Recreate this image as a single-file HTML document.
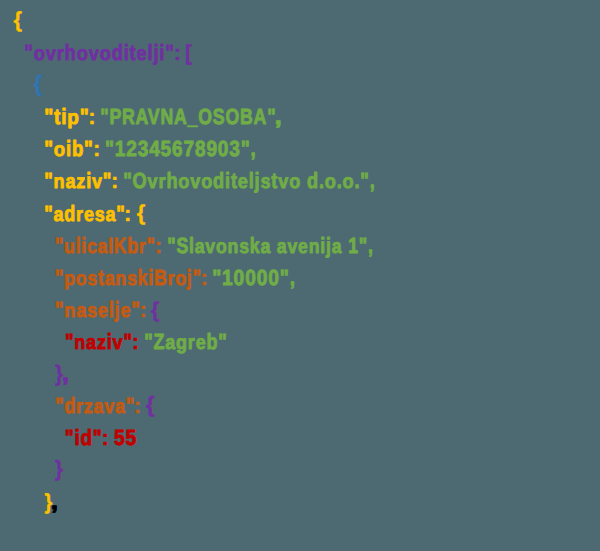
<!DOCTYPE html>
<html><head><meta charset="utf-8"><style>
html,body{margin:0;padding:0;background:#4D6A72;width:600px;height:551px;overflow:hidden}
svg{display:block}
text{font-family:"Liberation Sans",sans-serif;font-weight:bold;font-size:22.0px;white-space:pre;text-rendering:geometricPrecision;stroke-width:0.9px;stroke-linejoin:round}
</style></head><body>
<svg width="600" height="551" viewBox="0 0 600 551">
<rect width="600" height="551" fill="#4D6A72"/>
<g>
<text transform="translate(13.55 27.22) scale(0.9875 0.9857)" fill="#FFC000" stroke="#FFC000" style="stroke-width:0.4px">{</text>
<g fill="#7030A0" stroke="#7030A0"><text transform="translate(24.17 60.00) scale(0.8315 1.0)">"</text><text transform="translate(33.67 60.00) scale(0.8315 0.92)">o</text><text transform="translate(45.67 60.00) scale(0.8315 0.92)">v</text><text transform="translate(56.67 60.00) scale(0.8315 0.92)">r</text><text transform="translate(64.62 60.00) scale(0.8315 1.0)">h</text><text transform="translate(76.63 60.00) scale(0.8315 0.92)">o</text><text transform="translate(88.63 60.00) scale(0.8315 0.92)">v</text><text transform="translate(99.64 60.00) scale(0.8315 0.92)">o</text><text transform="translate(111.64 60.00) scale(0.8315 1.0)">d</text><text transform="translate(123.65 60.00) scale(0.8315 1.0)">i</text><text transform="translate(129.57 60.00) scale(0.8315 1.0)">t</text><text transform="translate(136.49 60.00) scale(0.8315 0.92)">e</text><text transform="translate(147.50 60.00) scale(0.8315 1.0)">l</text><text transform="translate(153.41 60.00) scale(0.8315 1.0)">j</text><text transform="translate(159.32 60.00) scale(0.8315 1.0)">i</text><text transform="translate(165.23 60.00) scale(0.8315 1.0)">"</text></g>
<text transform="translate(173.75 60.00) scale(1.0000 1.0000)" fill="#7030A0" stroke="#7030A0" style="stroke-width:0.4px">:</text>
<text transform="translate(185.04 59.86) scale(0.9600 0.9762)" fill="#7030A0" stroke="#7030A0" style="stroke-width:0.4px">[</text>
<text transform="translate(33.76 91.25) scale(0.9625 1.0000)" fill="#2E75B6" stroke="#2E75B6" style="stroke-width:0.4px">{</text>
<g fill="#FFC000" stroke="#FFC000"><text transform="translate(44.14 124.20) scale(0.8643 1.0)">"</text><text transform="translate(54.01 124.20) scale(0.8643 1.0)">t</text><text transform="translate(61.21 124.20) scale(0.8643 1.0)">i</text><text transform="translate(67.35 124.20) scale(0.8643 0.92)">p</text><text transform="translate(79.83 124.20) scale(0.8643 1.0)">"</text></g>
<text transform="translate(88.25 124.20) scale(1.0000 1.0000)" fill="#FFC000" stroke="#FFC000" style="stroke-width:0.4px">:</text>
<g fill="#70AD47" stroke="#70AD47"><text transform="translate(100.20 124.20) scale(0.8042 1.0)">"</text><text transform="translate(109.38 124.20) scale(0.8042 1.0)">P</text><text transform="translate(121.98 124.20) scale(0.8042 1.0)">R</text><text transform="translate(135.57 124.20) scale(0.8042 1.0)">A</text><text transform="translate(147.83 124.20) scale(0.8042 1.0)">V</text><text transform="translate(160.43 124.20) scale(0.8042 1.0)">N</text><text transform="translate(174.02 124.20) scale(0.8042 1.0)">A</text><text transform="translate(187.60 124.20) scale(0.8042 1.0)">_</text><text transform="translate(198.24 124.20) scale(0.8042 1.0)">O</text><text transform="translate(212.80 124.20) scale(0.8042 1.0)">S</text><text transform="translate(225.41 124.20) scale(0.8042 1.0)">O</text><text transform="translate(239.98 124.20) scale(0.8042 1.0)">B</text><text transform="translate(253.55 124.20) scale(0.8042 1.0)">A</text><text transform="translate(267.14 124.20) scale(0.8042 1.0)">"</text></g>
<text transform="translate(274.40 124.20) scale(1.2000 1.0000)" fill="#70AD47" stroke="#70AD47">,</text>
<g fill="#FFC000" stroke="#FFC000"><text transform="translate(44.16 156.30) scale(0.8430 1.0)">"</text><text transform="translate(53.79 156.30) scale(0.8430 0.92)">o</text><text transform="translate(65.96 156.30) scale(0.8430 1.0)">i</text><text transform="translate(71.95 156.30) scale(0.8430 1.0)">b</text><text transform="translate(84.12 156.30) scale(0.8430 1.0)">"</text></g>
<text transform="translate(92.90 156.30) scale(1.0000 1.0000)" fill="#FFC000" stroke="#FFC000" style="stroke-width:0.4px">:</text>
<g fill="#70AD47" stroke="#70AD47"><text transform="translate(104.94 156.30) scale(0.8649 1.0)">"</text><text transform="translate(114.81 156.30) scale(0.8649 1.0)">1</text><text transform="translate(126.26 156.30) scale(0.8649 1.0)">2</text><text transform="translate(137.71 156.30) scale(0.8649 1.0)">3</text><text transform="translate(149.15 156.30) scale(0.8649 1.0)">4</text><text transform="translate(160.60 156.30) scale(0.8649 1.0)">5</text><text transform="translate(172.05 156.30) scale(0.8649 1.0)">6</text><text transform="translate(183.49 156.30) scale(0.8649 1.0)">7</text><text transform="translate(194.96 156.30) scale(0.8649 1.0)">8</text><text transform="translate(206.40 156.30) scale(0.8649 1.0)">9</text><text transform="translate(217.85 156.30) scale(0.8649 1.0)">0</text><text transform="translate(229.30 156.30) scale(0.8649 1.0)">3</text><text transform="translate(240.74 156.30) scale(0.8649 1.0)">"</text><text transform="translate(250.62 156.30) scale(0.8649 1.0)">,</text></g>
<g fill="#FFC000" stroke="#FFC000"><text transform="translate(44.18 188.40) scale(0.8213 1.0)">"</text><text transform="translate(53.56 188.40) scale(0.8213 0.92)">n</text><text transform="translate(65.42 188.40) scale(0.8213 0.92)">a</text><text transform="translate(76.28 188.40) scale(0.8213 0.92)">z</text><text transform="translate(86.14 188.40) scale(0.8213 1.0)">i</text><text transform="translate(91.98 188.40) scale(0.8213 0.92)">v</text><text transform="translate(102.85 188.40) scale(0.8213 1.0)">"</text></g>
<text transform="translate(110.90 188.40) scale(1.0000 1.0000)" fill="#FFC000" stroke="#FFC000" style="stroke-width:0.4px">:</text>
<g fill="#70AD47" stroke="#70AD47"><text transform="translate(123.17 188.40) scale(0.8258 1.0)">"</text><text transform="translate(132.61 188.40) scale(0.8258 1.0)">O</text><text transform="translate(147.56 188.40) scale(0.8258 0.92)">v</text><text transform="translate(158.49 188.40) scale(0.8258 0.92)">r</text><text transform="translate(166.38 188.40) scale(0.8258 1.0)">h</text><text transform="translate(178.31 188.40) scale(0.8258 0.92)">o</text><text transform="translate(190.23 188.40) scale(0.8258 0.92)">v</text><text transform="translate(201.16 188.40) scale(0.8258 0.92)">o</text><text transform="translate(213.09 188.40) scale(0.8258 1.0)">d</text><text transform="translate(225.01 188.40) scale(0.8258 1.0)">i</text><text transform="translate(230.88 188.40) scale(0.8258 1.0)">t</text><text transform="translate(237.76 188.40) scale(0.8258 0.92)">e</text><text transform="translate(248.69 188.40) scale(0.8258 1.0)">l</text><text transform="translate(254.56 188.40) scale(0.8258 1.0)">j</text><text transform="translate(260.43 188.40) scale(0.8258 0.92)">s</text><text transform="translate(271.36 188.40) scale(0.8258 1.0)">t</text><text transform="translate(278.24 188.40) scale(0.8258 0.92)">v</text><text transform="translate(289.17 188.40) scale(0.8258 0.92)">o</text><text transform="translate(306.96 188.40) scale(0.8258 1.0)">d</text><text transform="translate(318.88 188.40) scale(0.8258 1.0)">.</text><text transform="translate(324.76 188.40) scale(0.8258 0.92)">o</text><text transform="translate(336.69 188.40) scale(0.8258 1.0)">.</text><text transform="translate(342.56 188.40) scale(0.8258 0.92)">o</text><text transform="translate(354.48 188.40) scale(0.8258 1.0)">.</text><text transform="translate(360.35 188.40) scale(0.8258 1.0)">"</text><text transform="translate(369.79 188.40) scale(0.8258 1.0)">,</text></g>
<g fill="#FFC000" stroke="#FFC000"><text transform="translate(44.18 220.50) scale(0.8165 1.0)">"</text><text transform="translate(53.51 220.50) scale(0.8165 0.92)">a</text><text transform="translate(64.32 220.50) scale(0.8165 1.0)">d</text><text transform="translate(76.10 220.50) scale(0.8165 0.92)">r</text><text transform="translate(83.91 220.50) scale(0.8165 0.92)">e</text><text transform="translate(94.72 220.50) scale(0.8165 0.92)">s</text><text transform="translate(105.53 220.50) scale(0.8165 0.92)">a</text><text transform="translate(116.33 220.50) scale(0.8165 1.0)">"</text></g>
<text transform="translate(124.10 220.50) scale(1.0000 1.0000)" fill="#FFC000" stroke="#FFC000" style="stroke-width:0.4px">:</text>
<text transform="translate(136.75 219.86) scale(1.0000 0.9762)" fill="#FFC000" stroke="#FFC000" style="stroke-width:0.4px">{</text>
<g fill="#C55A11" stroke="#C55A11"><text transform="translate(55.00 252.60) scale(0.7984 1.0)">"</text><text transform="translate(64.12 252.60) scale(0.7984 0.92)">u</text><text transform="translate(75.65 252.60) scale(0.7984 1.0)">l</text><text transform="translate(81.32 252.60) scale(0.7984 1.0)">i</text><text transform="translate(87.01 252.60) scale(0.7984 0.92)">c</text><text transform="translate(97.58 252.60) scale(0.7984 0.92)">a</text><text transform="translate(108.14 252.60) scale(0.7984 1.0)">I</text><text transform="translate(113.82 252.60) scale(0.7984 1.0)">K</text><text transform="translate(127.30 252.60) scale(0.7984 1.0)">b</text><text transform="translate(138.83 252.60) scale(0.7984 0.92)">r</text><text transform="translate(146.47 252.60) scale(0.7984 1.0)">"</text></g>
<text transform="translate(154.75 252.60) scale(1.0000 1.0000)" fill="#C55A11" stroke="#C55A11" style="stroke-width:0.4px">:</text>
<g fill="#70AD47" stroke="#70AD47"><text transform="translate(167.20 252.60) scale(0.8039 1.0)">"</text><text transform="translate(176.38 252.60) scale(0.8039 1.0)">S</text><text transform="translate(188.98 252.60) scale(0.8039 1.0)">l</text><text transform="translate(194.69 252.60) scale(0.8039 0.92)">a</text><text transform="translate(205.33 252.60) scale(0.8039 0.92)">v</text><text transform="translate(215.99 252.60) scale(0.8039 0.92)">o</text><text transform="translate(227.59 252.60) scale(0.8039 0.92)">n</text><text transform="translate(239.20 252.60) scale(0.8039 0.92)">s</text><text transform="translate(249.84 252.60) scale(0.8039 1.0)">k</text><text transform="translate(260.48 252.60) scale(0.8039 0.92)">a</text><text transform="translate(276.83 252.60) scale(0.8039 0.92)">a</text><text transform="translate(287.47 252.60) scale(0.8039 0.92)">v</text><text transform="translate(298.11 252.60) scale(0.8039 0.92)">e</text><text transform="translate(308.75 252.60) scale(0.8039 0.92)">n</text><text transform="translate(320.36 252.60) scale(0.8039 1.0)">i</text><text transform="translate(326.07 252.60) scale(0.8039 1.0)">j</text><text transform="translate(331.80 252.60) scale(0.8039 0.92)">a</text><text transform="translate(348.16 252.60) scale(0.8039 1.0)">1</text><text transform="translate(358.80 252.60) scale(0.8039 1.0)">"</text><text transform="translate(367.99 252.60) scale(0.8039 1.0)">,</text></g>
<g fill="#C55A11" stroke="#C55A11"><text transform="translate(55.00 284.70) scale(0.8033 1.0)">"</text><text transform="translate(64.17 284.70) scale(0.8033 0.92)">p</text><text transform="translate(75.77 284.70) scale(0.8033 0.92)">o</text><text transform="translate(87.37 284.70) scale(0.8033 0.92)">s</text><text transform="translate(98.00 284.70) scale(0.8033 1.0)">t</text><text transform="translate(104.69 284.70) scale(0.8033 0.92)">a</text><text transform="translate(115.32 284.70) scale(0.8033 0.92)">n</text><text transform="translate(126.92 284.70) scale(0.8033 0.92)">s</text><text transform="translate(137.55 284.70) scale(0.8033 1.0)">k</text><text transform="translate(148.18 284.70) scale(0.8033 1.0)">i</text><text transform="translate(153.91 284.70) scale(0.8033 1.0)">B</text><text transform="translate(167.46 284.70) scale(0.8033 0.92)">r</text><text transform="translate(175.15 284.70) scale(0.8033 0.92)">o</text><text transform="translate(186.74 284.70) scale(0.8033 1.0)">j</text><text transform="translate(192.47 284.70) scale(0.8033 1.0)">"</text></g>
<text transform="translate(200.40 284.70) scale(1.0000 1.0000)" fill="#C55A11" stroke="#C55A11" style="stroke-width:0.4px">:</text>
<g fill="#70AD47" stroke="#70AD47"><text transform="translate(212.13 284.70) scale(0.8710 1.0)">"</text><text transform="translate(222.08 284.70) scale(0.8710 1.0)">1</text><text transform="translate(233.60 284.70) scale(0.8710 1.0)">0</text><text transform="translate(245.13 284.70) scale(0.8710 1.0)">0</text><text transform="translate(256.66 284.70) scale(0.8710 1.0)">0</text><text transform="translate(268.18 284.70) scale(0.8710 1.0)">0</text><text transform="translate(279.71 284.70) scale(0.8710 1.0)">"</text><text transform="translate(289.67 284.70) scale(0.8710 1.0)">,</text></g>
<g fill="#C55A11" stroke="#C55A11"><text transform="translate(54.98 316.80) scale(0.8197 1.0)">"</text><text transform="translate(64.34 316.80) scale(0.8197 0.92)">n</text><text transform="translate(76.18 316.80) scale(0.8197 0.92)">a</text><text transform="translate(87.03 316.80) scale(0.8197 0.92)">s</text><text transform="translate(97.87 316.80) scale(0.8197 0.92)">e</text><text transform="translate(108.72 316.80) scale(0.8197 1.0)">l</text><text transform="translate(114.56 316.80) scale(0.8197 1.0)">j</text><text transform="translate(120.39 316.80) scale(0.8197 0.92)">e</text><text transform="translate(131.24 316.80) scale(0.8197 1.0)">"</text></g>
<text transform="translate(139.50 316.80) scale(1.0000 1.0000)" fill="#C55A11" stroke="#C55A11" style="stroke-width:0.4px">:</text>
<text transform="translate(150.75 316.86) scale(1.0000 0.9762)" fill="#7030A0" stroke="#7030A0" style="stroke-width:0.4px">{</text>
<g fill="#C00000" stroke="#C00000"><text transform="translate(64.88 348.90) scale(0.8200 1.0)">"</text><text transform="translate(74.25 348.90) scale(0.8200 0.92)">n</text><text transform="translate(86.08 348.90) scale(0.8200 0.92)">a</text><text transform="translate(96.94 348.90) scale(0.8200 0.92)">z</text><text transform="translate(106.78 348.90) scale(0.8200 1.0)">i</text><text transform="translate(112.61 348.90) scale(0.8200 0.92)">v</text><text transform="translate(123.46 348.90) scale(0.8200 1.0)">"</text></g>
<text transform="translate(131.75 348.90) scale(1.0000 1.0000)" fill="#C00000" stroke="#C00000" style="stroke-width:0.4px">:</text>
<g fill="#70AD47" stroke="#70AD47"><text transform="translate(144.18 348.90) scale(0.8161 1.0)">"</text><text transform="translate(153.51 348.90) scale(0.8161 1.0)">Z</text><text transform="translate(165.29 348.90) scale(0.8161 0.92)">a</text><text transform="translate(176.09 348.90) scale(0.8161 0.92)">g</text><text transform="translate(187.87 348.90) scale(0.8161 0.92)">r</text><text transform="translate(195.68 348.90) scale(0.8161 0.92)">e</text><text transform="translate(206.48 348.90) scale(0.8161 1.0)">b</text><text transform="translate(218.26 348.90) scale(0.8161 1.0)">"</text></g>
<text transform="translate(55.07 380.86) scale(0.9333 1.0190)" fill="#7030A0" stroke="#7030A0" style="stroke-width:0.4px">}</text>
<text transform="translate(61.65 381.00) scale(1.2000 1.0000)" fill="#7030A0" stroke="#7030A0">,</text>
<g fill="#C55A11" stroke="#C55A11"><text transform="translate(55.19 413.10) scale(0.8094 1.0)">"</text><text transform="translate(64.44 413.10) scale(0.8094 1.0)">d</text><text transform="translate(76.12 413.10) scale(0.8094 0.92)">r</text><text transform="translate(83.86 413.10) scale(0.8094 0.92)">z</text><text transform="translate(93.57 413.10) scale(0.8094 0.92)">a</text><text transform="translate(104.29 413.10) scale(0.8094 0.92)">v</text><text transform="translate(115.00 413.10) scale(0.8094 0.92)">a</text><text transform="translate(125.71 413.10) scale(0.8094 1.0)">"</text></g>
<text transform="translate(133.75 413.10) scale(1.0000 1.0000)" fill="#C55A11" stroke="#C55A11" style="stroke-width:0.4px">:</text>
<text transform="translate(145.74 412.25) scale(1.0500 1.0000)" fill="#7030A0" stroke="#7030A0" style="stroke-width:0.4px">{</text>
<g fill="#C00000" stroke="#C00000"><text transform="translate(64.64 445.20) scale(0.8554 1.0)">"</text><text transform="translate(74.42 445.20) scale(0.8554 1.0)">i</text><text transform="translate(80.50 445.20) scale(0.8554 1.0)">d</text><text transform="translate(92.85 445.20) scale(0.8554 1.0)">"</text></g>
<text transform="translate(101.40 445.20) scale(1.0000 1.0000)" fill="#C00000" stroke="#C00000" style="stroke-width:0.4px">:</text>
<g fill="#C00000" stroke="#C00000"><text transform="translate(113.98 445.20) scale(0.8720 1.0)">5</text><text transform="translate(125.52 445.20) scale(0.8720 1.0)">5</text></g>
<text transform="translate(54.76 476.25) scale(0.9697 1.0000)" fill="#7030A0" stroke="#7030A0" style="stroke-width:0.4px">}</text>
<text transform="translate(44.57 508.72) scale(0.9212 0.9857)" fill="#FFC000" stroke="#FFC000" style="stroke-width:0.4px">}</text>
<text transform="translate(50.80 509.40) scale(1.2000 1.0000)" fill="#000000" stroke="#000000">,</text>
</g>
</svg>
</body></html>
